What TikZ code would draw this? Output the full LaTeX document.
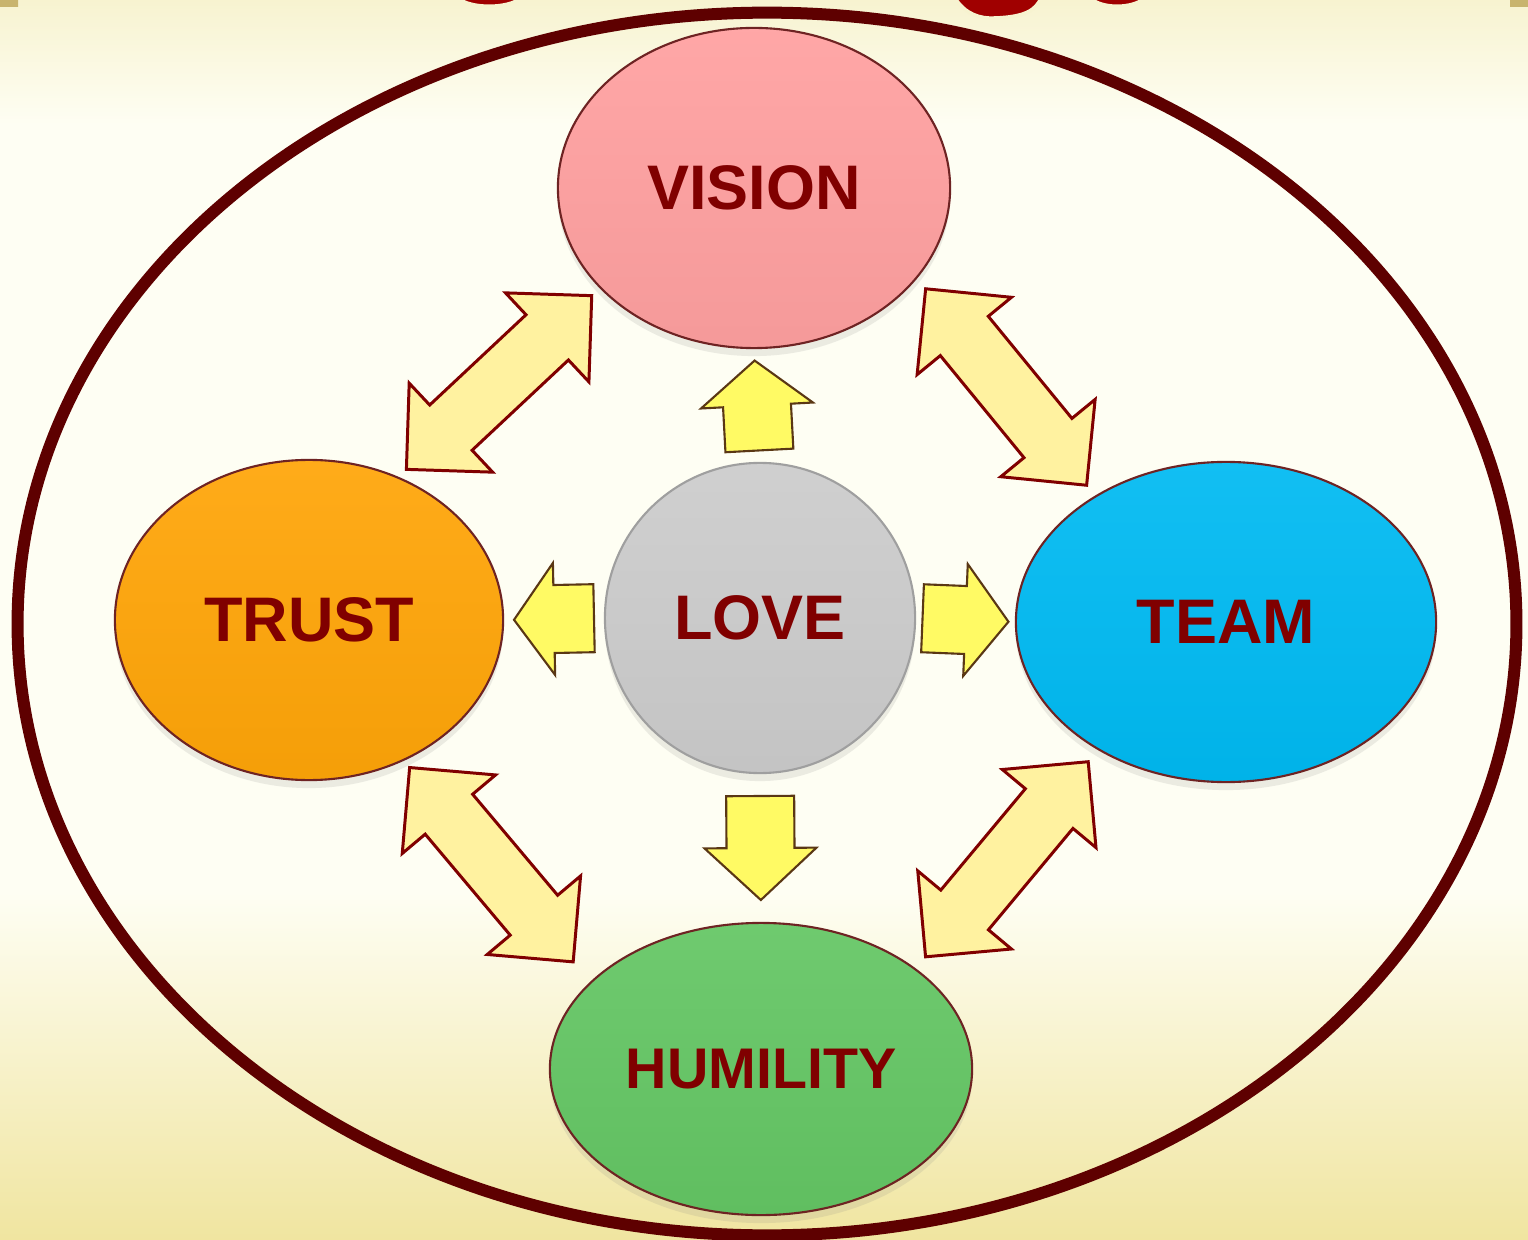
\documentclass[tikz,border=0pt]{standalone}
\usepackage{fontspec}
\setmainfont{Liberation Sans}
\usetikzlibrary{shapes.geometric,shadows,calc}
\definecolor{maroon}{RGB}{128,0,0}
\definecolor{rim}{RGB}{110,35,35}
\definecolor{ringred}{RGB}{94,0,0}
\definecolor{blobred}{RGB}{160,0,0}
\definecolor{vispink}{RGB}{255,160,160}
\definecolor{trustorange}{RGB}{255,165,8}
\definecolor{teamblue}{RGB}{0,186,242}
\definecolor{humgreen}{RGB}{100,198,100}
\definecolor{lovegray}{RGB}{204,204,204}
\definecolor{dblfill}{RGB}{255,242,160}
\definecolor{onefill}{RGB}{255,250,100}
\definecolor{onerim}{RGB}{90,55,20}
\definecolor{bgtop}{RGB}{247,243,208}
\definecolor{bgmid}{RGB}{254,254,243}
\definecolor{bgbot}{RGB}{240,229,160}
\definecolor{tanmark}{RGB}{200,180,110}
\pgfdeclareverticalshading{bgshade}{100bp}{color(0bp)=(bgbot); color(25bp)=(bgbot);
  color(39bp)=(bgmid); color(70bp)=(bgmid); color(75bp)=(bgtop); color(100bp)=(bgtop)}
\tikzset{
  bubble/.style={ellipse,draw=rim,line width=0.6pt,top color=#1!93!white,bottom color=#1!96!black,
    text=maroon,font=\fontsize{17.9}{20}\selectfont\bfseries,inner sep=0pt,
    drop shadow={opacity=0.15,shadow xshift=0mm,shadow yshift=-0.8mm}},
  bubble/.default=lovegray,
  twofill/.style={fill=dblfill,draw=maroon,line width=0.85pt,line join=miter},
  onefill/.style={fill=onefill,draw=onerim,line width=0.6pt,line join=miter},
  % block arrows
  pics/twoway/.style={code={
    \filldraw[twofill] (-127,0) -- (-66,61) -- (-66,31) -- (66,31) -- (66,61) -- (127,0)
      -- (66,-61) -- (66,-31) -- (-66,-31) -- (-66,-61) -- cycle;
  }},
  pics/oneway/.style={code={
    \filldraw[onefill] (-#1,34) -- (0,34) -- (0,56) -- (#1,0) -- (0,-56) -- (0,-34) -- (-#1,-34) -- cycle;
  }},
  pics/oneway/.default=45,
}
\begin{document}
\begin{tikzpicture}[x=0.01cm,y=-0.01cm]
    \useasboundingbox (0,0) rectangle (1528,1240);
    \clip (0,0) rectangle (1528,1240);
    \shade[shading=bgshade] (0,0) rectangle (1528,1240);
    \fill[tanmark] (0,0) rectangle (18,7) (1510,0) rectangle (1528,7);
    \filldraw[blobred,draw=bgtop,line width=1pt] (458,-2) .. controls (470,9) and (508,9) .. (521,-2) -- cycle;
    \filldraw[blobred,draw=bgtop,line width=1pt] (955,-2) .. controls (965,14) and (980,19) .. (995,18)
      .. controls (1025,17) and (1036,10) .. (1041,-2) -- cycle;
    \filldraw[blobred,draw=bgtop,line width=1pt] (1090,-2) .. controls (1102,9) and (1132,9) .. (1145,-2) -- cycle;
    \draw[ringred,line width=1.2mm] (767,624) ellipse [x radius=7.49cm,y radius=6.11cm];

    \node[bubble=vispink,minimum width=3.92cm,minimum height=3.2cm] (vision) at (754,188) {VISION};
    \node[bubble=trustorange,minimum width=3.88cm,minimum height=3.2cm] (trust) at (309,620) {TRUST};
    \node[bubble=teamblue,minimum width=4.2cm,minimum height=3.2cm] (team) at (1226,622) {TEAM};
    \node[bubble=humgreen,minimum width=4.22cm,minimum height=2.92cm,
      font=\fontsize{16.3}{18}\selectfont\bfseries] (humility) at (761,1069) {HUMILITY};
    \node[bubble,circle,draw=gray!75,minimum size=3.1cm] (love) at (760,618) {LOVE};

    \foreach \a/\b/\l in {love.north/vision.south/45,love.south/humility.north/52,
                          love.west/trust.east/40,love.east/team.west/43}
      \path (\a) -- (\b) pic[midway,sloped,allow upside down]{oneway=\l};
    \foreach \a/\b/\p in {trust.58/vision.213/0.5,vision.331/team.136/0.5,
                          trust.304/humility.153/0.47,team.225/humility.33/0.5}
      \path (\a) -- (\b) pic[pos=\p,sloped]{twoway};
\end{tikzpicture}
\end{document}
